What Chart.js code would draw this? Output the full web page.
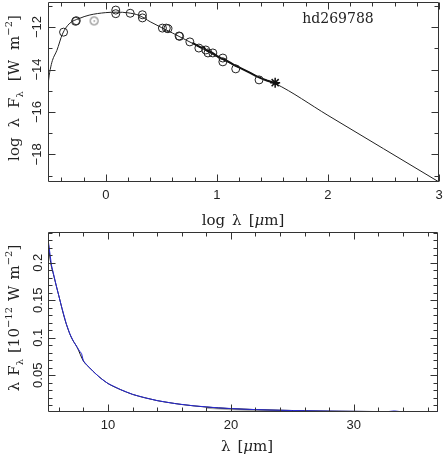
<!DOCTYPE html>
<html><head><meta charset="utf-8">
<script src="https://cdn.jsdelivr.net/npm/chart.js@4.4.0/dist/chart.umd.min.js"></script>
<style>
html,body{margin:0;padding:0;background:#fff;}
#wrap{position:relative;width:443px;height:463px;overflow:hidden;}
#c1{position:absolute;left:0;top:0;}
#c2{position:absolute;left:0;top:230px;}
</style></head><body>
<div id="wrap">
<canvas id="c1" width="443" height="230"></canvas>
<canvas id="c2" width="443" height="233"></canvas>
</div>
<script>
// ---------- Top panel data (log lambda [um], log lambda F_lambda [W m^-2]) ----------
const sedLogLam  = [-0.52,-0.51,-0.50,-0.48,-0.44,-0.39,-0.33,-0.24,-0.15,0.0,0.1,0.2,0.3,0.4,0.5,0.6,0.7,0.8,0.9,1.0,1.1,1.2,1.3,1.4,1.525,2.0,2.5,3.0];
const sedLogFlux = [-14.75,-14.3,-14.0,-13.57,-13.1,-12.33,-11.85,-11.6,-11.44,-11.32,-11.3,-11.33,-11.45,-11.75,-12.02,-12.28,-12.55,-12.82,-13.1,-13.4,-13.65,-13.9,-14.15,-14.42,-14.66,-16.16,-17.73,-19.3];
const photLogLam  = [-0.38,-0.272,-0.265,0.09,0.09,0.22,0.33,0.33,0.51,0.545,0.56,0.66,0.665,0.757,0.838,0.90,0.92,0.964,1.054,1.054,1.17,1.38];
const photLogFlux = [-12.24,-11.73,-11.70,-11.20,-11.37,-11.35,-11.42,-11.57,-12.05,-12.05,-12.08,-12.42,-12.44,-12.70,-12.99,-13.08,-13.22,-13.22,-13.46,-13.64,-13.97,-14.49];
const faintLogLam  = [-0.105];
const faintLogFlux = [-11.71];
const specLogLam  = [0.78,0.82,0.86,0.88,0.90,0.93,0.96,1.00,1.04,1.08,1.12,1.16,1.20,1.25,1.30,1.35,1.40,1.45,1.50,1.54,1.56];
const specLogFlux = [-12.74,-12.86,-12.97,-12.94,-13.08,-13.14,-13.22,-13.36,-13.48,-13.56,-13.68,-13.80,-13.90,-14.03,-14.16,-14.30,-14.42,-14.52,-14.60,-14.68,-14.63];
const starLogLam  = [1.525];
const starLogFlux = [-14.62];
const topXTicks = [0,1,2,3];
const topYTicks = [-12,-14,-16,-18];
const starName = 'hd269788';

// ---------- Bottom panel data (lambda [um], lambda F_lambda [1e-12 W m^-2]) ----------
const modelLam  = [5.12,5.3,5.6,6.0,6.5,7.0,7.5,8.0,8.5,9.0,9.5,10.0,11.0,12.0,13.0,14.0,15.0,16.0,18.0,20.0,22.0,24.0,26.0,28.0,30.0,32.0,34.0,36.85];
const modelFlux = [0.231,0.204,0.182,0.156,0.124,0.101,0.087,0.069,0.060,0.052,0.045,0.039,0.031,0.0245,0.0200,0.0162,0.0134,0.0110,0.0076,0.0055,0.0042,0.0033,0.0027,0.0022,0.0019,0.0016,0.0014,0.0011];
const obsLam  = [5.12,5.4,5.8,6.2,6.6,6.9,7.2,7.5,7.7,7.85,8.0,8.3,8.8,9.4,10.0,11.0,12.0,13.0,14.0,15.5,17.0,19.0,21.0,23.0,25.0,27.0,29.0,31.0,32.8,33.3,33.8,35.0,36.85];
const obsFlux = [0.232,0.197,0.169,0.143,0.119,0.105,0.095,0.087,0.082,0.079,0.069,0.0635,0.055,0.046,0.039,0.031,0.0245,0.0200,0.0162,0.0121,0.0092,0.0065,0.0048,0.0037,0.0030,0.0024,0.0020,0.0017,0.0016,0.0024,0.0015,0.0013,0.0012];
const greyLam  = [18.0,20.0,22.0,24.0,26.0];
const greyFlux = [0.0068,0.0048,0.0034,0.0026,0.0021];
const botXTicks = [10,20,30];
const botYTicks = [0.05,0.1,0.15,0.2];

const pts = (xs, ys) => xs.map((x, i) => ({x, y: ys[i]}));
const fmt = v => String(v).replace('-', '\u2212');

// point image for the dotted circle
const dotCircle = (() => {
  const c = document.createElement('canvas'); c.width = 11; c.height = 11;
  const g = c.getContext('2d');
  g.strokeStyle = '#666'; g.lineWidth = 1;
  g.beginPath(); g.arc(5.5, 5.5, 4, 0, Math.PI * 2); g.stroke();
  g.fillStyle = '#555'; g.fillRect(5, 5, 1.2, 1.2);
  return c;
})();

// frame with inward ticks on all four sides
const framePlugin = {
  id: 'frame',
  afterDraw(chart) {
    const o = chart.options.plugins.frame; if (!o || !o.on) return;
    const {ctx, chartArea: a} = chart; const xs = chart.scales.x, ys = chart.scales.y;
    ctx.save(); ctx.strokeStyle = '#333'; ctx.lineWidth = 1;
    const L = Math.round(a.left) + 0.5, R = Math.round(a.right) - 0.5, T = Math.round(a.top) + 0.5, B = Math.round(a.bottom) - 0.5;
    ctx.beginPath(); ctx.rect(L, T, R - L, B - T); ctx.stroke();
    const each = (min, max, step, major, fn) => {
      const k0 = Math.ceil(min / step - 1e-9), k1 = Math.floor(max / step + 1e-9);
      for (let k = k0; k <= k1; k++) { const v = k * step; fn(v, Math.abs(v / major - Math.round(v / major)) < 1e-6); }
    };
    ctx.beginPath();
    each(xs.min, xs.max, o.xMinor, o.xMajor, (v, m) => {
      const p = Math.round(xs.getPixelForValue(v)) + 0.5, l = m ? o.major : o.minor;
      ctx.moveTo(p, B); ctx.lineTo(p, B - l); ctx.moveTo(p, T); ctx.lineTo(p, T + l);
    });
    each(ys.min, ys.max, o.yMinor, o.yMajor, (v, m) => {
      const p = Math.round(ys.getPixelForValue(v)) + 0.5, l = m ? o.major : o.minor;
      ctx.moveTo(L, p); ctx.lineTo(L + l, p); ctx.moveTo(R, p); ctx.lineTo(R - l, p);
    });
    ctx.stroke(); ctx.restore();
  }
};

// rich text (sub/superscripts) drawn on the canvas
function drawRich(ctx, parts, cx, cy, rot) {
  ctx.save(); ctx.translate(cx, cy); ctx.rotate(rot);
  const f = p => (p.it ? 'italic ' : '') + (p.s || 15) + 'px "DejaVu Serif"';
  let w = 0;
  parts.forEach(p => { ctx.font = f(p); w += ctx.measureText(p.t).width + (p.gap || 0); });
  let x = -w / 2;
  ctx.fillStyle = '#222'; ctx.textBaseline = 'alphabetic'; ctx.textAlign = 'left';
  parts.forEach(p => { ctx.font = f(p); ctx.fillText(p.t, x, 5 + (p.dy || 0)); x += ctx.measureText(p.t).width + (p.gap || 0); });
  ctx.restore();
}
const titlePlugin = {
  id: 'titles',
  afterDraw(chart) {
    const o = chart.options.plugins.titles; if (!o || !o.items) return;
    o.items.forEach(it => drawRich(chart.ctx, it.parts, it.x, it.y, it.rot || 0));
  }
};
Chart.register(framePlugin, titlePlugin);

const tickFont = {family: '"Liberation Sans", Arial, sans-serif', size: 13};

function axisX(min, max, ticks, pad, h) {
  return {type: 'linear', min, max,
    afterBuildTicks: s => { s.ticks = ticks.map(v => ({value: v})); },
    afterFit: s => { s.height = h; s.paddingLeft = 0; s.paddingRight = 0; },
    grid: {display: false, drawTicks: false}, border: {display: false},
    ticks: {padding: pad, color: '#222', font: tickFont, maxRotation: 0, autoSkip: false, callback: v => fmt(v)}};
}
function axisY(min, max, ticks, pad) {
  return {type: 'linear', min, max,
    afterBuildTicks: s => { s.ticks = ticks.map(v => ({value: v})); },
    afterFit: s => { s.width = 48; s.paddingTop = 0; s.paddingBottom = 0; },
    grid: {display: false, drawTicks: false}, border: {display: false},
    ticks: {padding: pad, color: '#222', font: tickFont, minRotation: 90, maxRotation: 90, crossAlign: 'center', autoSkip: false, callback: v => fmt(v)}};
}

const common = {responsive: false, animation: false, events: []};

new Chart(document.getElementById('c1'), {
  type: 'scatter',
  data: {datasets: [
    {data: pts(photLogLam, photLogFlux), pointStyle: 'circle', pointRadius: 4, borderColor: '#222', backgroundColor: 'rgba(0,0,0,0)', pointBorderWidth: 1, showLine: false},
    {data: pts(faintLogLam, faintLogFlux), pointStyle: dotCircle, pointRadius: 4, showLine: false},
    {data: pts(starLogLam, starLogFlux), pointStyle: 'star', pointRadius: 5, borderColor: '#111', pointBorderWidth: 1.5, showLine: false},
    {data: pts(specLogLam, specLogFlux), showLine: true, borderColor: '#111', borderWidth: 2, pointRadius: 0, tension: 0},
    {data: pts(sedLogLam, sedLogFlux), showLine: true, borderColor: '#222', borderWidth: 1, pointRadius: 0, cubicInterpolationMode: 'monotone'}
  ]},
  options: Object.assign({}, common, {
    layout: {autoPadding: false, padding: {left: 0, right: 4, top: 2, bottom: 0}},
    scales: {x: axisX(-0.52, 3.0, topXTicks, 6, 48), y: axisY(-19.3, -10.82, topYTicks, 0)},
    plugins: {legend: {display: false}, tooltip: {enabled: false},
      frame: {on: true, xMinor: 0.2, xMajor: 1, yMinor: 1, yMajor: 2, minor: 4, major: 7},
      titles: {items: [
        {x: 338, y: 18, parts: [{t: starName, s: 14}]},
        {x: 243, y: 220, parts: [{t: 'log', gap: 7}, {t: 'λ', gap: 7}, {t: '['}, {t: 'μ', it: true}, {t: 'm]'}]},
        {x: 14, y: 88, rot: -Math.PI / 2, parts: [{t: 'log', gap: 10}, {t: 'λ', gap: 10}, {t: 'F'}, {t: 'λ', s: 10, dy: 4, gap: 10}, {t: '[W', gap: 10}, {t: 'm'}, {t: '\u22122', s: 10, dy: -7}, {t: ']'}]}
      ]}}
  })
});

new Chart(document.getElementById('c2'), {
  type: 'scatter',
  data: {datasets: [
    {data: pts(obsLam, obsFlux), showLine: true, borderColor: '#2a2ad8', borderWidth: 1, pointRadius: 0, tension: 0},
    {data: pts(modelLam, modelFlux), showLine: true, borderColor: '#111', borderWidth: 1, pointRadius: 0, cubicInterpolationMode: 'monotone'},
    {data: pts(greyLam, greyFlux), showLine: true, borderColor: '#aaa', borderWidth: 2, pointRadius: 0}
  ]},
  options: Object.assign({}, common, {
    layout: {autoPadding: false, padding: {left: 0, right: 5, top: 2, bottom: 0}},
    scales: {x: axisX(5.12, 36.85, botXTicks, 6, 51), y: axisY(0.001, 0.241, botYTicks, -3)},
    plugins: {legend: {display: false}, tooltip: {enabled: false},
      frame: {on: true, xMinor: 2, xMajor: 10, yMinor: 0.01, yMajor: 0.05, minor: 4, major: 7},
      titles: {items: [
        {x: 247, y: 216, parts: [{t: 'λ', gap: 7}, {t: '['}, {t: 'μ', it: true}, {t: 'm]'}]},
        {x: 14, y: 88, rot: -Math.PI / 2, parts: [{t: 'λ', gap: 6}, {t: 'F'}, {t: 'λ', s: 10, dy: 4, gap: 6}, {t: '[10'}, {t: '\u221212', s: 10, dy: -7, gap: 6}, {t: 'W', gap: 6}, {t: 'm'}, {t: '\u22122', s: 10, dy: -7}, {t: ']'}]}
      ]}}
  })
});
</script>
</body></html>
